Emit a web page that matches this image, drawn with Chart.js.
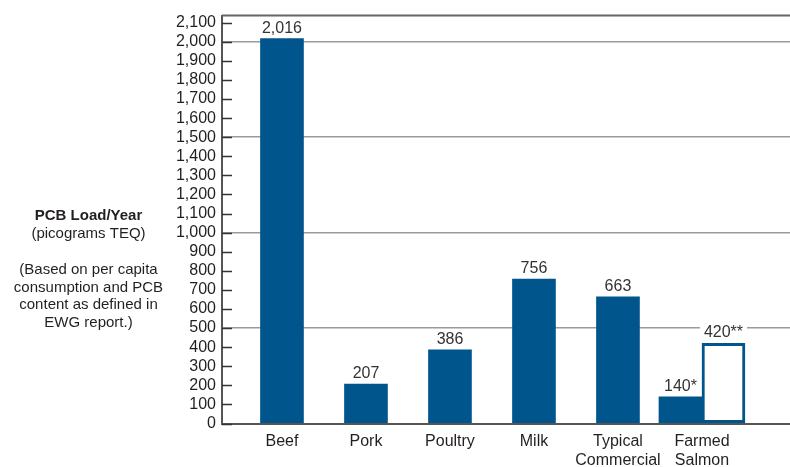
<!DOCTYPE html>
<html>
<head>
<meta charset="utf-8">
<script src="https://cdn.jsdelivr.net/npm/chart.js@4.4.0/dist/chart.umd.min.js"></script>
<style>
html, body { margin: 0; padding: 0; background: #fff; }
#container-grafico { width: 790px; height: 467px; position: relative; }
</style>
</head>
<body>
<div id="container-grafico"><canvas id="grafico"></canvas></div>
<script>
// dados do grafico
var categorias = ['Beef', 'Pork', 'Poultry', 'Milk', ['Typical', 'Commercial'], ['Farmed', 'Salmon']];
var valores = [2016, 207, 386, 756, 663, 140];
var sufixos = ['', '', '', '', '', '*'];
var valoresSalmao = [null, null, null, null, null, 420];
var sufixosSalmao = ['', '', '', '', '', '**'];
var ticksY = [0, 100, 200, 300, 400, 500, 600, 700, 800, 900, 1000, 1100, 1200, 1300, 1400, 1500, 1600, 1700, 1800, 1900, 2000, 2100];
var tituloY = ['PCB Load/Year', '(picograms TEQ)', '', '(Based on per capita', 'consumption and PCB', 'content as defined in', 'EWG report.)'];

var azul = '#00558c';
var texto = '#231f20';
var fonte = '"Liberation Sans", Arial, Helvetica, sans-serif';

Chart.defaults.font.family = fonte;
Chart.defaults.color = texto;

function formata(v) {
    return v.toLocaleString('en-US');
}

// marcas, linha do topo, rotulos dos valores e titulo do eixo Y
var extras = {
    id: 'extras',
    beforeDatasetsDraw: function (chart) {
        var ctx = chart.ctx;
        var area = chart.chartArea;
        var y = chart.scales.y;
        ctx.save();
        ctx.strokeStyle = '#333';
        ctx.lineWidth = 1.5;
        ticksY.forEach(function (v) {
            var py = Math.round(y.getPixelForValue(v)) + 0.5;
            ctx.beginPath();
            ctx.moveTo(area.left, py);
            ctx.lineTo(area.left + 10, py);
            ctx.stroke();
        });
        ctx.strokeStyle = '#666';
        ctx.lineWidth = 2;
        ctx.beginPath();
        ctx.moveTo(area.left, area.top);
        ctx.lineTo(area.right, area.top);
        ctx.stroke();
        ctx.restore();
    },
    afterDatasetsDraw: function (chart) {
        var ctx = chart.ctx;
        ctx.save();
        ctx.font = '16px ' + fonte;
        ctx.textAlign = 'center';
        ctx.textBaseline = 'alphabetic';
        var listas = [[valores, sufixos], [valoresSalmao, sufixosSalmao]];
        listas.forEach(function (par, d) {
            var meta = chart.getDatasetMeta(d);
            meta.data.forEach(function (el, i) {
                var v = par[0][i];
                if (v === null) return;
                var t = formata(v) + par[1][i];
                var w = ctx.measureText(t).width;
                var base = el.y - 6;
                ctx.fillStyle = '#fff';
                ctx.fillRect(el.x - w / 2 - 4, base - 13, w + 8, 16);
                ctx.fillStyle = '#333';
                ctx.fillText(t, el.x, base);
            });
        });
        ctx.restore();
    },
    afterDraw: function (chart) {
        var ctx = chart.ctx;
        ctx.save();
        ctx.textAlign = 'center';
        ctx.textBaseline = 'middle';
        ctx.fillStyle = texto;
        var ys = [216, 234, 252, 270, 287.5, 305, 322.5];
        tituloY.forEach(function (linha, i) {
            ctx.font = (i === 0 ? 'bold ' : '') + '15px ' + fonte;
            ctx.fillText(linha, 88.5, ys[i]);
        });
        ctx.restore();
    }
};

var Grafico = document.getElementById('grafico');
var my = new Chart(Grafico, {
    type: 'bar',
    data: {
        datasets: [{
            label: 'PCB',
            data: valores.map(function (v, i) { return { x: i, y: v }; }),
            backgroundColor: azul,
            borderWidth: 0,
            barThickness: 43,
            skipNull: true
        }, {
            label: 'PCB **',
            data: valoresSalmao.map(function (v, i) { return { x: i, y: v }; }),
            backgroundColor: '#fff',
            borderColor: azul,
            borderWidth: 3,
            borderSkipped: false,
            barThickness: 43,
            skipNull: true
        }]
    },
    options: {
        responsive: true,
        maintainAspectRatio: false,
        animation: false,
        layout: { padding: { top: 13, right: 0, left: 0, bottom: 0 } },
        plugins: {
            legend: { display: false },
            tooltip: { enabled: false }
        },
        scales: {
            x: {
                type: 'linear',
                offset: false,
                min: -0.714,
                max: 6.048,
                afterBuildTicks: function (axis) {
                    axis.ticks = categorias.map(function (c, i) { return { value: i }; });
                },
                afterFit: function (axis) { axis.height = 43.5; },
                grid: { display: true, color: 'rgba(0,0,0,0)', drawTicks: false, offset: false },
                border: { display: true, color: '#555', width: 2 },
                ticks: {
                    autoSkip: false,
                    maxRotation: 0,
                    padding: 8,
                    color: texto,
                    font: { size: 16 },
                    callback: function (v) { return categorias[v]; }
                }
            },
            y: {
                min: 0,
                max: 2137,
                afterBuildTicks: function (axis) {
                    axis.ticks = ticksY.map(function (v) { return { value: v }; });
                },
                afterFit: function (axis) { axis.width = 222; },
                grid: {
                    drawTicks: false,
                    lineWidth: 1.5,
                    color: function (c) {
                        return c.tick && c.tick.value > 0 && c.tick.value % 500 === 0 ? '#9a9a9a' : 'rgba(0,0,0,0)';
                    }
                },
                border: { display: true, color: '#555', width: 2 },
                ticks: {
                    autoSkip: false,
                    padding: 6,
                    color: texto,
                    font: { size: 16 },
                    callback: function (v) { return formata(v); }
                }
            }
        }
    },
    plugins: [extras]
});
</script>
</body>
</html>
